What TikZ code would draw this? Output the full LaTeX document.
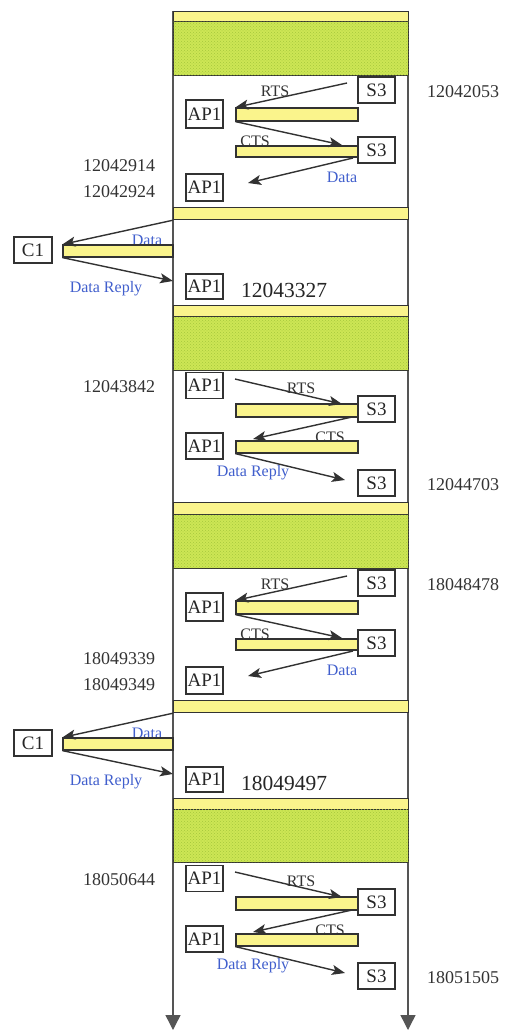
\documentclass[tikz,border=0pt]{standalone}
\usepackage{fontspec}
\setmainfont{Liberation Serif}
\usetikzlibrary{arrows.meta,patterns}
\definecolor{barY}{RGB}{250,244,140}
\definecolor{bandG}{RGB}{205,230,85}
\definecolor{dotG}{RGB}{165,200,60}
\definecolor{lineC}{RGB}{50,50,50}
\definecolor{frameC}{RGB}{85,85,85}
\definecolor{lblB}{RGB}{65,95,205}
\tikzset{
  box/.style={draw=lineC, line width=1.2pt, fill=white, minimum width=37pt, minimum height=26pt, inner sep=0pt, font=\fontsize{19}{19}\selectfont, text=black!85},
  bar/.style={draw=lineC, line width=1.2pt, fill=barY, inner sep=0pt},
  fullbar/.style={bar, anchor=north west, minimum width=235pt},
  band/.style={draw=lineC, line width=1.2pt, fill=bandG, inner sep=0pt, anchor=north west, minimum width=235pt, postaction={pattern=crosshatch dots, pattern color=dotG}},
  msg/.style={draw=lineC, line width=1.4pt, -{Stealth[length=13pt,width=10pt,inset=3pt]}},
  frame/.style={draw=frameC, line width=1.4pt, -{Triangle[length=15pt,width=15pt]}},
  num/.style={font=\fontsize{18}{18}\selectfont, text=black!80, inner sep=0pt},
  bignum/.style={font=\fontsize{21.5}{21.5}\selectfont, text=black!85, inner sep=0pt},
  sig/.style={font=\fontsize{16}{16}\selectfont, text=black!80, inner sep=0pt},
  blu/.style={font=\fontsize{16}{16}\selectfont, text=lblB, inner sep=0pt},
}
\newcommand{\partA}[5]{%
\begin{scope}[shift={(0,#1)}]
  \node[sig] (#2lr) at (275,91) {RTS};
  \node[sig] (#2lc) at (255,141) {CTS};
  \node[blu] (#2ld) at (342,177) {Data};
  \node[num] (#2nr) at (463,92) {#3};
  \node[num] (#2nla) at (119,166) {#4};
  \node[num] (#2nlb) at (119,192) {#5};
  \node[bar, minimum width=122pt, minimum height=13pt] (#2b1) at (297,114.5) {};
  \node[bar, minimum width=122pt, minimum height=11pt] (#2b2) at (297,151.5) {};
  \node[box] (#2s3a) at (376.5,90) {S3};
  \node[box, minimum height=28pt] (#2apa) at (204.5,114) {AP1};
  \node[box] (#2s3b) at (376.5,150) {S3};
  \node[box, minimum height=27pt] (#2apb) at (204.5,187.5) {AP1};
  \coordinate (#2r0) at (347,83);
  \coordinate (#2c1) at (342,145);
  \coordinate (#2d0) at (353,158);
  \coordinate (#2d1) at (248,183);
  \draw[msg] (#2r0) -- (#2b1.north west);
  \draw[msg] (#2b1.south west) -- (#2c1);
  \draw[msg] (#2d0) -- (#2d1);
\end{scope}}
\newcommand{\partC}[4]{%
\begin{scope}[shift={(0,#1)}]
  \node[blu] (#2ld) at (147,240) {Data};
  \node[blu] (#2lr) at (106,289) {Data Reply};
  \node[bignum] (#2n) at (284,290) {#3};
  \node[box, minimum width=38pt] (#2cone) at (33,250) {C1};
  \node[bar, minimum width=110pt, minimum height=12pt] (#2b) at (118,251) {};
  \node[box, minimum height=25pt] (#2ap) at (204.5,286.5) {AP1};
  \coordinate (#2e) at (173,281);
  \draw[msg] (#4.south west) -- (#2b.north west);
  \draw[msg] (#2b.south west) -- (#2e);
\end{scope}}
\newcommand{\partB}[4]{%
\begin{scope}[shift={(0,#1)}]
  \node[sig] (#2lr) at (301,388) {RTS};
  \node[sig] (#2lc) at (330,437) {CTS};
  \node[blu] (#2ld) at (253,473) {Data Reply};
  \node[num] (#2nl) at (119,387) {#3};
  \node[num] (#2nr) at (463,485) {#4};
  \node[bar, minimum width=122pt, minimum height=13pt] (#2b1) at (297,410.5) {};
  \node[bar, minimum width=122pt, minimum height=12pt] (#2b2) at (297,447) {};
  \node[box] (#2apa) at (204.5,385.5) {AP1};
  \node[box] (#2s3a) at (376.5,409) {S3};
  \node[box] (#2apb) at (204.5,446) {AP1};
  \node[box] (#2s3b) at (376.5,483) {S3};
  \coordinate (#2r0) at (235,379);
  \coordinate (#2r1) at (342,404);
  \coordinate (#2c0) at (352,417);
  \coordinate (#2c1) at (253,439);
  \coordinate (#2d1) at (345,480);
  \draw[msg] (#2r0) -- (#2r1);
  \draw[msg] (#2c0) -- (#2c1);
  \draw[msg] (#2b2.south west) -- (#2d1);
\end{scope}}
\begin{document}
\begin{tikzpicture}[x=1pt,y=-1pt]
  \useasboundingbox[fill=white] (0,0) rectangle (505,1033);
  % frame
  \coordinate (lend) at (173,1030);
  \coordinate (rend) at (408,1030);
  \coordinate (ltop) at (173,11);
  \coordinate (rtop) at (408,11);
  \draw[frame] (ltop) -- (lend);
  \draw[frame] (rtop) -- (rend);
  % bands and full bars
  \node[fullbar, minimum height=10pt] (yb1) at (173,11) {};
  \node[band, minimum height=54pt] (g1) at (173,21) {};
  \node[fullbar, minimum height=12pt] (yb2) at (173,207) {};
  \node[fullbar, minimum height=11pt] (yb3) at (173,305) {};
  \node[band, minimum height=54pt] (g2) at (173,316) {};
  \node[fullbar, minimum height=12pt] (yb4) at (173,502) {};
  \node[band, minimum height=54pt] (g3) at (173,514) {};
  \node[fullbar, minimum height=12pt] (yb5) at (173,700) {};
  \node[fullbar, minimum height=11pt] (yb6) at (173,798) {};
  \node[band, minimum height=53pt] (g4) at (173,809) {};
  % sections
  \partA{0}{a}{12042053}{12042914}{12042924}
  \partC{0}{b}{12043327}{yb2}
  \partB{0}{c}{12043842}{12044703}
  \partA{493}{d}{18048478}{18049339}{18049349}
  \partC{493}{e}{18049497}{yb5}
  \partB{493}{f}{18050644}{18051505}
\end{tikzpicture}
\end{document}
